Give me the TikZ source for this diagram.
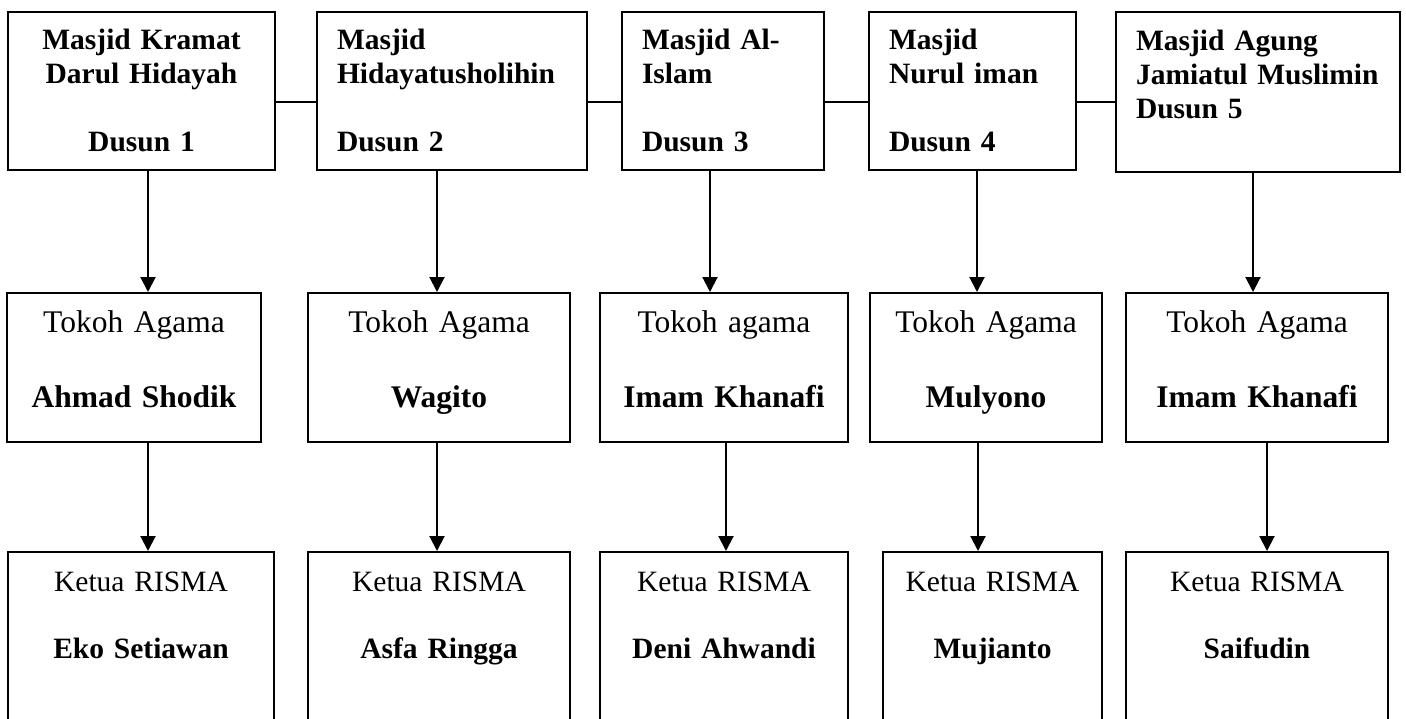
\documentclass[tikz,border=0pt]{standalone}
\usepackage{fontspec}
\setmainfont{Liberation Serif}
\usetikzlibrary{arrows.meta}

\begin{document}
\begin{tikzpicture}[
  x=1pt, y=-1pt,
  font=\fontsize{29.5}{34}\selectfont,
  kotak/.style={draw, line width=2pt, inner xsep=20pt, inner ysep=0pt, align=left},
  masjid/.style={kotak, font=\fontsize{29.5}{34}\selectfont\bfseries, text height=37pt, text depth=121pt},
  tokoh/.style={kotak, align=center, font=\fontsize{31.5}{34}\selectfont, text height=39pt, text depth=110pt},
  ketua/.style={kotak, align=center, text height=39pt, text depth=149pt},
  ar/.style={-{Triangle[length=15pt, width=15pt]}, line width=2pt},
  link/.style={line width=1.5pt}]
\useasboundingbox (0,0) rectangle (1406,718);
\clip (0,0) rectangle (1406,718);
% masjid tiap dusun
\node[masjid, align=center, text width=227pt] (t1) at (141.5,91) {Masjid Kramat\\Darul Hidayah\\[34pt]Dusun 1};
\node[masjid, text width=230pt] (t2) at (452,91) {Masjid\\Hidayatusholihin\\[34pt]Dusun 2};
\node[masjid, text width=162pt] (t3) at (723,91) {Masjid Al-\\Islam\\[34pt]Dusun 3};
\node[masjid, text width=167pt] (t4) at (972.5,91) {Masjid\\Nurul iman\\[34pt]Dusun 4};
\node[masjid, text width=244pt, text height=38pt, text depth=122pt] (t5) at (1258,92) {Masjid Agung\\Jamiatul Muslimin\\Dusun 5};
\draw[link] ([yshift=-11pt]t1.east) -- ([yshift=-11pt]t2.west);
\draw[link] ([yshift=-11pt]t2.east) -- ([yshift=-11pt]t3.west);
\draw[link] ([yshift=-11pt]t3.east) -- ([yshift=-11pt]t4.west);
\draw[link] ([yshift=-11pt]t4.east) -- ([yshift=-10pt]t5.west);
% tokoh agama
\node[tokoh, text width=214pt] (m1) at (134,367.5) {Tokoh Agama\\[41pt]\textbf{Ahmad Shodik}};
\node[tokoh, text width=222pt] (m2) at (439,367.5) {Tokoh Agama\\[41pt]\textbf{Wagito}};
\node[tokoh, text width=208pt] (m3) at (724,367.5) {Tokoh agama\\[41pt]\textbf{Imam Khanafi}};
\node[tokoh, text width=192pt] (m4) at (986,367.5) {Tokoh Agama\\[41pt]\textbf{Mulyono}};
\node[tokoh, text width=222pt] (m5) at (1257,367.5) {Tokoh Agama\\[41pt]\textbf{Imam Khanafi}};
\draw[ar] ([xshift=6.5pt]t1.south) -- ([xshift=14pt]m1.north);
\draw[ar] ([xshift=-15pt]t2.south) -- ([xshift=-2pt]m2.north);
\draw[ar] ([xshift=-13pt]t3.south) -- ([xshift=-14pt]m3.north);
\draw[ar] ([xshift=4.5pt]t4.south) -- ([xshift=-9pt]m4.north);
\draw[ar] ([xshift=-5pt]t5.south) -- ([xshift=-4pt]m5.north);
% ketua risma
\node[ketua, text width=226pt] (b1) at (141,646) {Ketua RISMA\\[33pt]\textbf{Eko Setiawan}};
\node[ketua, text width=222pt] (b2) at (439,646) {Ketua RISMA\\[33pt]\textbf{Asfa Ringga}};
\node[ketua, text width=208pt] (b3) at (724,646) {Ketua RISMA\\[33pt]\textbf{Deni Ahwandi}};
\node[ketua, text width=179pt] (b4) at (992.5,646) {Ketua RISMA\\[33pt]\textbf{Mujianto}};
\node[ketua, text width=222pt] (b5) at (1257,646) {Ketua RISMA\\[33pt]\textbf{Saifudin}};
\draw[ar] ([xshift=14pt]m1.south) -- ([xshift=7pt]b1.north);
\draw[ar] ([xshift=-2pt]m2.south) -- ([xshift=-2pt]b2.north);
\draw[ar] ([xshift=2pt]m3.south) -- ([xshift=2pt]b3.north);
\draw[ar] ([xshift=-8pt]m4.south) -- ([xshift=-14.5pt]b4.north);
\draw[ar] ([xshift=10pt]m5.south) -- ([xshift=10pt]b5.north);
\end{tikzpicture}
\end{document}
